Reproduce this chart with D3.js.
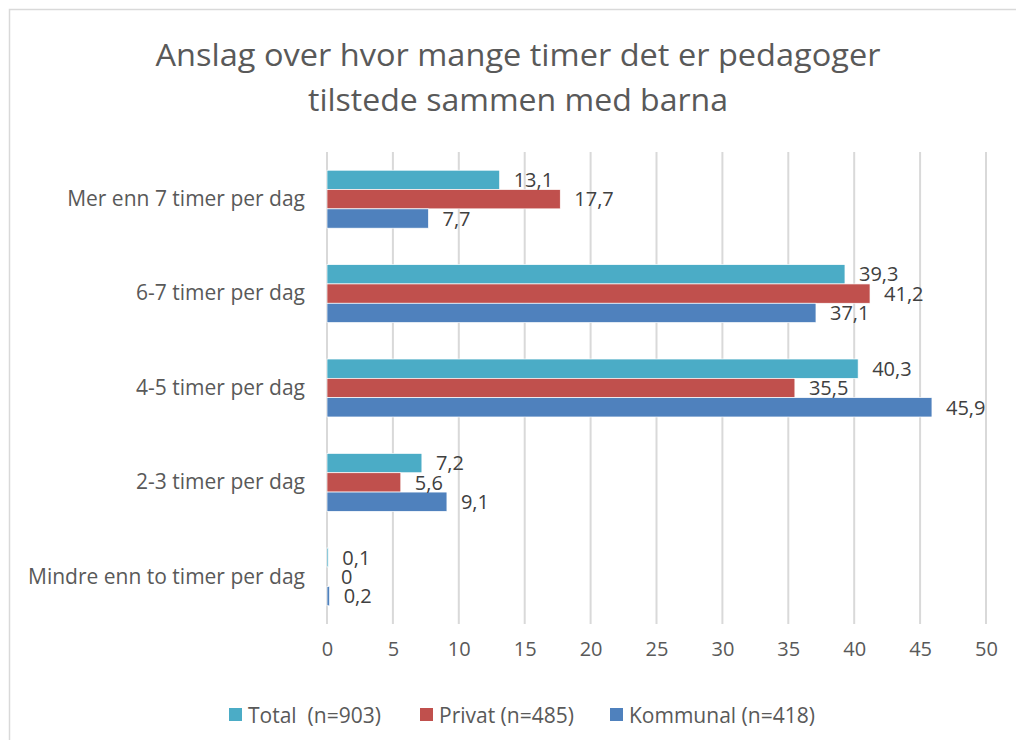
<!DOCTYPE html>
<html>
<head>
<meta charset="utf-8">
<script src="https://cdn.jsdelivr.net/npm/d3@7/dist/d3.min.js"></script>
<style>
  body { margin: 0; background: #fff; }
  svg text { font-family: "Open Sans", "Liberation Sans", Arial, sans-serif; }
</style>
</head>
<body>
<div id="chart"></div>
<script>
const WIDTH = 1016, HEIGHT = 740;
const M = { top: 152, right: 30, bottom: 116, left: 327 };
const innerW = 986 - M.left;
const innerH = 624 - M.top;
const FONT = '"Open Sans", "Liberation Sans", Arial, sans-serif';

// data
const categories = ["Mer enn 7 timer per dag", "6-7 timer per dag", "4-5 timer per dag", "2-3 timer per dag", "Mindre enn to timer per dag"];
const seriesNames = ["Total  (n=903)", "Privat (n=485)", "Kommunal (n=418)"];
const seriesColors = ["#4BACC6", "#C0504D", "#4F81BD"];
const total = [13.1, 39.3, 40.3, 7.2, 0.1];
const privat = [17.7, 41.2, 35.5, 5.6, 0];
const kommunal = [7.7, 37.1, 45.9, 9.1, 0.2];
const xTicks = [0, 5, 10, 15, 20, 25, 30, 35, 40, 45, 50];

const seriesVals = [total, privat, kommunal];
const rows = [];
seriesVals.forEach((vals, si) => vals.forEach((v, ci) => rows.push({ s: si, cat: categories[ci], v })));

const svg = d3.select("#chart").append("svg")
  .attr("width", WIDTH).attr("height", HEIGHT);

// outer chart border
svg.append("rect").attr("x", 9.5).attr("y", 9.5).attr("width", WIDTH).attr("height", HEIGHT)
  .attr("fill", "none").attr("stroke", "#d9d9d9").attr("stroke-width", 1.5);

const titleLines = ["Anslag over hvor mange timer det er pedagoger", "tilstede sammen med barna"];
const titleLen = [725, 420];
svg.append("g").selectAll("text").data(titleLines).join("text")
  .attr("x", 518).attr("y", (d, i) => 66 + i * 45)
  .attr("text-anchor", "middle").attr("fill", "#595959")
  .attr("font-size", 31)
  .attr("textLength", (d, i) => titleLen[i]).attr("lengthAdjust", "spacingAndGlyphs")
  .text(d => d);

const g = svg.append("g").attr("transform", `translate(${M.left},${M.top})`);

const x = d3.scaleLinear().domain([0, 50]).range([0, innerW]);
const y = d3.scaleBand().domain(categories).range([0, innerH]).paddingInner(0.386).paddingOuter(0.193);
const ys = d3.scaleBand().domain([0, 1, 2]).range([0, y.bandwidth()]);

// gridlines
g.append("g").selectAll("line").data(xTicks).join("line")
  .attr("x1", d => x(d)).attr("x2", d => x(d)).attr("y1", 0).attr("y2", innerH)
  .attr("stroke", "#d9d9d9").attr("stroke-width", 2);

// x axis labels
const xAxis = g.append("g").attr("transform", `translate(0,${innerH})`)
  .call(d3.axisBottom(x).tickValues(xTicks).tickSize(0).tickPadding(18));
xAxis.select(".domain").remove();
xAxis.selectAll("text").attr("font-size", 20).attr("fill", "#595959").style("font-family", FONT);

// category axis
const yAxis = g.append("g").call(d3.axisLeft(y).tickSize(0).tickPadding(22));
yAxis.select(".domain").remove();
yAxis.selectAll("text").attr("font-size", 21).attr("fill", "#595959").style("font-family", FONT);

// bars
g.selectAll(".bar").data(rows).join("rect")
  .attr("class", "bar")
  .attr("x", 0)
  .attr("y", d => y(d.cat) + ys(d.s))
  .attr("width", d => x(d.v))
  .attr("height", ys.bandwidth())
  .attr("fill", d => seriesColors[d.s])
  .attr("stroke", d => d.v > 0 ? "#fff" : "none").attr("stroke-width", 0.7);

// value labels
g.selectAll(".lbl").data(rows).join("text")
  .attr("class", "lbl")
  .attr("x", d => x(d.v) + 14)
  .attr("y", d => y(d.cat) + ys(d.s) + ys.bandwidth() / 2)
  .attr("dy", "0.36em")
  .attr("font-size", 20).attr("fill", "#404040")
  .text(d => String(d.v).replace(".", ","));

// legend
const legX = [229, 420, 610];
const leg = svg.append("g").selectAll("g").data(seriesNames).join("g")
  .attr("transform", (d, i) => `translate(${legX[i]},715)`);
leg.append("rect").attr("x", 0).attr("y", -7).attr("width", 13).attr("height", 13)
  .attr("fill", (d, i) => seriesColors[i]);
leg.append("text").attr("x", 19).attr("dy", "0.36em").attr("font-size", 21).attr("fill", "#595959")
  .attr("xml:space", "preserve").style("white-space", "pre").text(d => d);
</script>
</body>
</html>
